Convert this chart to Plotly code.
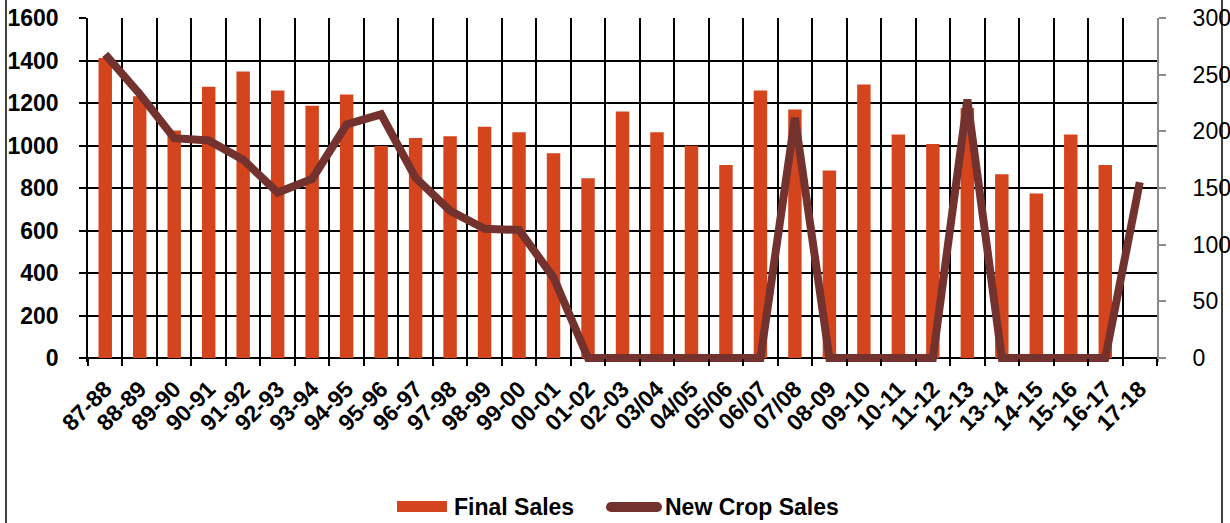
import plotly.graph_objects as go

seasons = ["87-88", "88-89", "89-90", "90-91", "91-92", "92-93", "93-94", "94-95",
           "95-96", "96-97", "97-98", "98-99", "99-00", "00-01", "01-02", "02-03",
           "03/04", "04/05", "05/06", "06/07", "07/08", "08-09", "09-10", "10-11",
           "11-12", "12-13", "13-14", "14-15", "15-16", "16-17", "17-18"]

final_sales = [1412, 1232, 1071, 1276, 1348, 1259, 1187, 1240,
               998, 1035, 1043, 1088, 1062, 963, 846, 1160,
               1062, 999, 908, 1259, 1170, 882, 1287, 1052,
               1007, 1177, 865, 774, 1052, 908, None]

new_crop_sales = [268, 233, 194, 192, 175, 146, 158, 206,
                  215, 159, 130, 114, 113, 71, 0, 0,
                  0, 0, 0, 0, 212, 0, 0, 0,
                  0, 228, 0, 0, 0, 0, 155]

left_ticks = [0, 200, 400, 600, 800, 1000, 1200, 1400, 1600]
right_ticks = [0, 50, 100, 150, 200, 250, 300]

FONT = "Liberation Sans, Arial, sans-serif"
BAR_COLOR = "#D5451D"
LINE_COLOR = "#74322F"

# plot-area geometry (pixels) used to place the hand-drawn legend / frame
L, R, T, B = 88, 1157, 18, 362
W, H = R - L, B - T


def px(x):
    return (x - L) / W


def py(y):
    return (B - y) / H


fig = go.Figure()
fig.add_trace(go.Bar(x=seasons, y=final_sales, name="Final Sales",
                     marker=dict(color=BAR_COLOR, line=dict(width=0)), yaxis="y"))
fig.add_trace(go.Scatter(x=seasons, y=new_crop_sales, name="New Crop Sales",
                         mode="lines", line=dict(color=LINE_COLOR, width=8),
                         yaxis="y2"))

pad_px = 4
lo1 = -1600 * pad_px / (H - pad_px)
lo2 = -300 * pad_px / (H - pad_px)

bold = dict(size=23, family=FONT, color="black", weight="bold")

r = 5  # legend line end-cap radius
leg_y = 507
fig.update_layout(
    width=1230, height=523,
    margin=dict(l=L, r=1230 - R, t=T, b=523 - B, autoexpand=False),
    paper_bgcolor="white", plot_bgcolor="white",
    font=dict(family=FONT, color="black"),
    bargap=0.61,
    showlegend=False,
    xaxis=dict(
        type="category", tickson="boundaries", showgrid=True, gridcolor="black",
        gridwidth=1.5, ticks="outside", ticklen=7, tickcolor="black", tickwidth=1.5,
        tickangle=-45, tickfont=bold, ticklabelstandoff=12,
        showline=False, anchor="free", position=pad_px / H,
        range=[-0.5, len(seasons) - 0.5], automargin=False,
    ),
    yaxis=dict(
        range=[lo1, 1600], tickvals=left_ticks, showgrid=True, gridcolor="black",
        gridwidth=1.5, zeroline=True, zerolinecolor="black", zerolinewidth=1.5,
        showline=True, linecolor="black", linewidth=1.5,
        ticks="outside", ticklen=7, tickcolor="black", tickwidth=1.5,
        tickfont=bold, ticklabelstandoff=16, automargin=False,
    ),
    yaxis2=dict(
        range=[lo2, 300], tickvals=right_ticks, overlaying="y", side="right",
        showgrid=False, zeroline=False, showline=True, linecolor="#8C8C8C",
        linewidth=2, ticks="outside", ticklen=7, tickcolor="#8C8C8C", tickwidth=1.5,
        tickfont=dict(size=23, family=FONT, color="black"), ticklabelstandoff=22,
        automargin=False,
    ),
    shapes=[
        # outer frame sides
        dict(type="line", xref="paper", yref="paper", x0=px(6), x1=px(6),
             y0=-2, y1=2, line=dict(color="black", width=1.5)),
        dict(type="line", xref="paper", yref="paper", x0=px(1222), x1=px(1222),
             y0=-2, y1=2, line=dict(color="black", width=1.5)),
        # legend symbols
        dict(type="rect", xref="paper", yref="paper", x0=px(397), x1=px(447),
             y0=py(501), y1=py(512), fillcolor=BAR_COLOR, line=dict(width=0)),
        dict(type="line", xref="paper", yref="paper", x0=px(611), x1=px(657),
             y0=py(leg_y), y1=py(leg_y), line=dict(color=LINE_COLOR, width=10)),
        dict(type="circle", xref="paper", yref="paper", x0=px(611 - r), x1=px(611 + r),
             y0=py(leg_y + r), y1=py(leg_y - r), fillcolor=LINE_COLOR, line=dict(width=0)),
        dict(type="circle", xref="paper", yref="paper", x0=px(657 - r), x1=px(657 + r),
             y0=py(leg_y + r), y1=py(leg_y - r), fillcolor=LINE_COLOR, line=dict(width=0)),
    ],
    annotations=[
        dict(text="Final Sales", xref="paper", yref="paper", x=px(452), y=py(leg_y),
             xanchor="left", yanchor="middle", showarrow=False, font=bold),
        dict(text="New Crop Sales", xref="paper", yref="paper", x=px(663), y=py(leg_y),
             xanchor="left", yanchor="middle", showarrow=False, font=bold),
    ],
)

fig.write_html("out.html", config={"displayModeBar": False},
               post_script="document.body.style.margin='0';document.body.style.overflow='hidden';")
